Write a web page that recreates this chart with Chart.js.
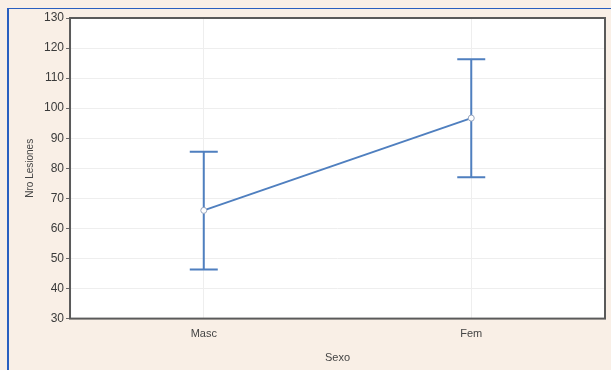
<!DOCTYPE html>
<html>
<head>
<meta charset="utf-8">
<script src="https://cdn.jsdelivr.net/npm/chart.js@4"></script>
<style>
  html, body { margin: 0; padding: 0; background: #f9efe6; }
  #wrap { position: absolute; left: 0; top: 0; width: 611px; height: 370px; }
  #frame { position: absolute; left: 7px; top: 8px; width: 604px; height: 362px;
           border-left: 2px solid #2a5fc0; border-top: 1px solid #2a5fc0; }
  canvas { position: absolute; left: 0; top: 0; }
</style>
</head>
<body>
<div id="wrap">
  <div id="frame"></div>
  <canvas id="chart" width="611" height="370"></canvas>
</div>
<script>
const categories = ['Masc', 'Fem'];
const means = [66, 96.7];
const upper = [85.5, 116.3];
const lower = [46.3, 77];
const y_ticks = [30, 40, 50, 60, 70, 80, 90, 100, 110, 120, 130];

const line_color = '#4f7fbf';

// draws vertical whiskers with caps from the lower/upper arrays
const error_bars = {
	id: 'error_bars',
	afterDatasetsDraw(chart) {
		const ctx = chart.ctx;
		const x_scale = chart.scales.x;
		const y_scale = chart.scales.y;
		ctx.save();
		ctx.strokeStyle = line_color;
		ctx.lineWidth = 2;
		categories.forEach(function (c, i) {
			const x = x_scale.getPixelForValue(i);
			const y_hi = y_scale.getPixelForValue(upper[i]);
			const y_lo = y_scale.getPixelForValue(lower[i]);
			ctx.beginPath();
			ctx.moveTo(x, y_hi); ctx.lineTo(x, y_lo);
			ctx.moveTo(x - 14, y_hi); ctx.lineTo(x + 14, y_hi);
			ctx.moveTo(x - 14, y_lo); ctx.lineTo(x + 14, y_lo);
			ctx.stroke();
		});
		// redraw points on top of whiskers
		const meta = chart.getDatasetMeta(0);
		meta.data.forEach(function (pt) {
			ctx.beginPath();
			ctx.arc(pt.x, pt.y, 3, 0, Math.PI * 2);
			ctx.fillStyle = '#ffffff';
			ctx.fill();
			ctx.lineWidth = 1;
			ctx.strokeStyle = '#9aa8c0';
			ctx.stroke();
		});
		ctx.restore();
	}
};

// white plot area with dark frame
const plot_frame = {
	id: 'plot_frame',
	beforeDraw(chart) {
		const a = chart.chartArea;
		const ctx = chart.ctx;
		ctx.save();
		ctx.fillStyle = '#ffffff';
		ctx.fillRect(a.left, a.top, a.right - a.left, a.bottom - a.top);
		ctx.restore();
	},
	afterDraw(chart) {
		const a = chart.chartArea;
		const ctx = chart.ctx;
		ctx.save();
		ctx.strokeStyle = '#5a5a5a';
		ctx.lineWidth = 2;
		ctx.strokeRect(a.left, a.top, a.right - a.left, a.bottom - a.top);
		ctx.restore();
	}
};

const chart = new Chart(
		document.getElementById('chart').getContext('2d'),
		{
			type: 'line',
			data: {
				labels: categories,
				datasets: [{
						data: means,
						borderColor: line_color,
						borderWidth: 2,
						pointRadius: 0,
						tension: 0
					}]
			},
			options: {
				responsive: false,
				animation: false,
				layout: {
					padding: { left: 24, right: 6, top: 18, bottom: 5 }
				},
				plugins: {
					legend: { display: false },
					tooltip: { enabled: false }
				},
				scales: {
					x: {
						offset: true,
						grid: {
							color: '#eeeeee',
							offset: false,
							drawTicks: false
						},
						border: { display: false },
						ticks: {
							color: '#444444',
							padding: 9,
							font: { family: 'Arial, Liberation Sans', size: 11 }
						},
						title: {
							display: true,
							text: 'Sexo',
							color: '#444444',
							padding: { top: 2, bottom: 0 },
							font: { family: 'Arial, Liberation Sans', size: 11 }
						}
					},
					y: {
						min: 30,
						max: 130,
						afterBuildTicks(axis) {
							axis.ticks = y_ticks.map(function (v) { return { value: v }; });
						},
						grid: {
							color: '#eeeeee',
							tickLength: 4,
							tickColor: '#666666'
						},
						border: { display: false },
						ticks: {
							color: '#3a3a3a',
							padding: 2,
							font: { family: 'Arial, Liberation Sans', size: 12 }
						},
						title: {
							display: true,
							text: 'Nro Lesiones',
							color: '#444444',
							padding: { top: 0, bottom: 6 },
							font: { family: 'Arial, Liberation Sans', size: 10 }
						}
					}
				}
			},
			plugins: [plot_frame, error_bars]
		}
);
</script>
</body>
</html>
